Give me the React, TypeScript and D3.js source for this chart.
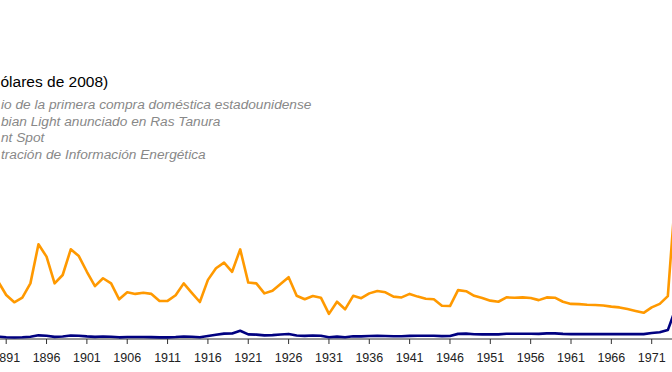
import React from "react";
import * as d3 from "d3";

// años visibles (el gráfico original está recortado a la ventana)
const years = d3.range(1890, 1975);

// precio en dólares de 2008
const realPrice = [
  21.3, 16.3, 13.6, 15.3, 20.6, 35.1, 30.5, 20.6, 23.7, 33.2,
  30.7, 24.9, 19.6, 22.5, 20.6, 14.7, 17.3, 16.7, 17.1, 16.7,
  14.1, 14.1, 16.2, 20.6, 17.1, 13.7, 21.9, 26.2, 28.3, 24.9,
  33.2, 20.9, 20.6, 16.9, 17.9, 20.4, 22.9, 16.0, 14.7, 15.9,
  15.3, 9.3, 13.8, 11.0, 16.0, 15.1, 16.9, 17.8, 17.3, 15.7,
  15.4, 16.7, 15.7, 14.9, 14.7, 12.3, 12.2, 18.1, 17.7, 16.0,
  15.2, 14.2, 13.8, 15.4, 15.3, 15.4, 15.2, 14.4, 15.4, 15.3,
  13.8, 13.0, 12.9, 12.7, 12.6, 12.4, 12.0, 11.7, 11.1, 10.4,
  9.7, 11.7, 13.0, 15.9, 56.0,
];

// precio nominal
const nominalPrice = [
  0.87, 0.67, 0.56, 0.64, 0.84, 1.36, 1.18, 0.79, 0.91, 1.29,
  1.19, 0.96, 0.8, 0.94, 0.86, 0.62, 0.73, 0.72, 0.72, 0.7,
  0.61, 0.61, 0.74, 0.95, 0.81, 0.64, 1.1, 1.56, 1.98, 2.01,
  3.07, 1.73, 1.61, 1.34, 1.43, 1.68, 1.88, 1.3, 1.17, 1.27,
  1.19, 0.65, 0.87, 0.67, 1.0, 0.97, 1.09, 1.18, 1.13, 1.02,
  1.02, 1.14, 1.19, 1.2, 1.21, 1.05, 1.12, 1.9, 1.99, 1.78,
  1.71, 1.71, 1.71, 1.93, 1.93, 1.93, 1.93, 1.9, 2.08, 2.08,
  1.9, 1.8, 1.8, 1.8, 1.8, 1.8, 1.8, 1.8, 1.8, 1.8,
  1.8, 2.24, 2.48, 3.29, 11.58,
];

const tickYears = d3.range(1891, 1975, 5);

const titleText = "ólares de 2008)";
const noteLines = [
  "io de la primera compra doméstica estadounidense",
  "bian Light anunciado en Ras Tanura",
  "nt Spot",
  "tración de Información Energética",
];

const W = 672;
const H = 372;
const font = "'Liberation Sans', Arial, sans-serif";

export default function App() {
  const x = d3.scaleLinear().domain([1891, 1971]).range([6.2, 651.7]);
  const y = d3.scaleLinear().domain([0, 60]).range([339, 177]);

  const line = (vals: number[]) =>
    d3
      .line<number>()
      .x((_, i) => x(years[i]))
      .y((v) => y(v))(vals) || "";

  return (
    <svg
      width={W}
      height={H}
      style={{ position: "absolute", left: 0, top: 0, background: "#fff" }}
      fontFamily={font}
    >
      <text x={0.5} y={87} fontSize={15.5} fill="#000">
        {titleText}
      </text>
      {noteLines.map((t, i) => (
        <text
          key={i}
          x={1}
          y={109 + i * 16.6}
          fontSize={13.7}
          fontStyle="italic"
          fill="#888"
        >
          {t}
        </text>
      ))}

      {/* eje x */}
      <line x1={0} x2={W} y1={y(0)} y2={y(0)} stroke="#333" strokeWidth={1} />
      {tickYears.map((yr) => (
        <g key={yr} transform={`translate(${x(yr)},${y(0)})`}>
          <line y2={5} stroke="#333" />
          <text y={23} textAnchor="middle" fontSize={12.5} fill="#222">
            {yr}
          </text>
        </g>
      ))}

      <path
        d={line(realPrice)}
        fill="none"
        stroke="#ff9900"
        strokeWidth={2.6}
        strokeLinejoin="round"
      />
      <path
        d={line(nominalPrice)}
        fill="none"
        stroke="#000080"
        strokeWidth={2.6}
        strokeLinejoin="round"
      />
    </svg>
  );
}
